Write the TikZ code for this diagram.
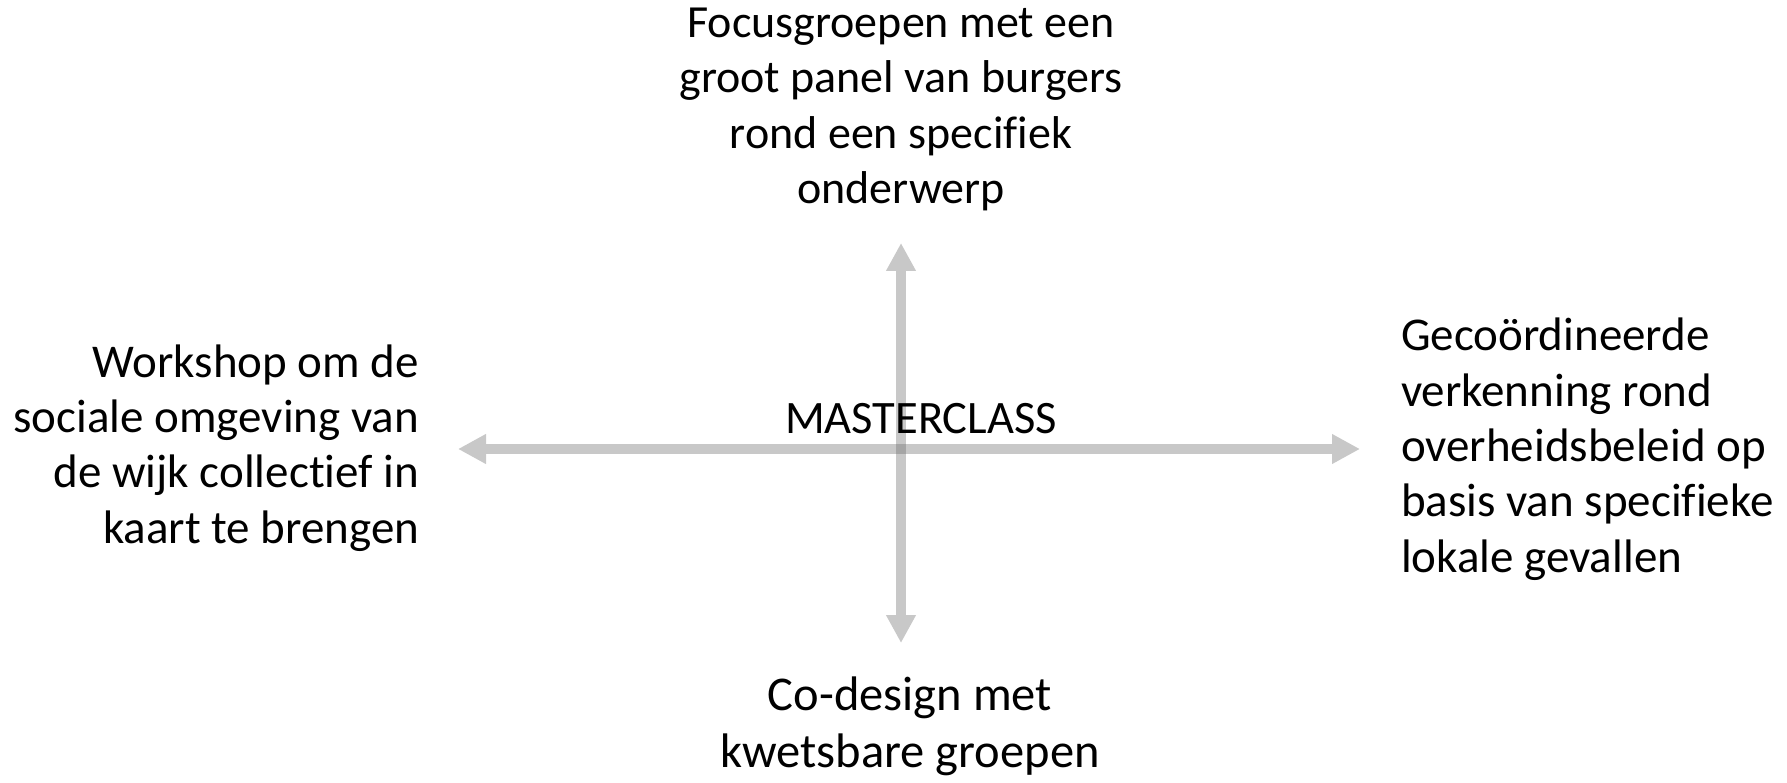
\documentclass[tikz,border=0pt]{standalone}
\usepackage{fontspec}
\setmainfont{Carlito}[Ligatures=NoCommon]
\usetikzlibrary{arrows.meta}
\definecolor{axisgray}{RGB}{200,200,200}
\definecolor{crossgray}{RGB}{165,165,165}
\tikzset{
  lbl/.style={inner sep=0pt, outer sep=0pt, font=\fontsize{46}{55.5}\selectfont, text=black},
  side/.style={font=\fontsize{47}{55.3}\selectfont},
  big/.style={font=\fontsize{48.5}{57}\selectfont},
  axis/.style={draw=axisgray, line width=10pt, {Triangle[width=28pt,length=28pt]}-{Triangle[width=28pt,length=28pt]}}
}
\begin{document}
\begin{tikzpicture}[x=1pt,y=-1pt]
\useasboundingbox[fill=white] (0,0) rectangle (1787,783);
\coordinate (t) at (901,243);
\coordinate (b) at (901,643);
\coordinate (l) at (458,449);
\coordinate (r) at (1360,449);
\draw[axis] (l) -- (r);
\draw[axis] (t) -- (b);
\fill[crossgray] (896,444) rectangle (906,454);
\node[lbl, anchor=base, align=center] (top) at (901,204) {Focusgroepen met een\\groot panel van burgers\\rond een specifiek\\onderwerp};
\node[lbl, side, anchor=base east, align=right] (left) at (419,543) {Workshop om de\\sociale omgeving van\\de wijk collectief in\\kaart te brengen};
\node[lbl, side, anchor=base west, align=left] (right) at (1401,572) {Gecoördineerde\\verkenning rond\\overheidsbeleid op\\basis van specifieke\\lokale gevallen};
\node[lbl, big, anchor=base, align=center] (bottom) at (910,767) {Co-design met\\kwetsbare groepen};
\node[lbl, font=\fontsize{46.5}{55.5}\selectfont, anchor=base] (mc) at (921,433) {MASTERCLASS};
\end{tikzpicture}
\end{document}
